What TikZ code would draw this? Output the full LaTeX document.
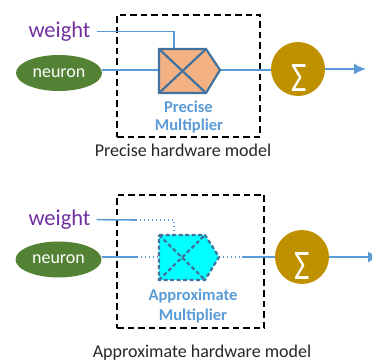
\documentclass[tikz,border=0pt]{standalone}
\usepackage{fontspec}
\setmainfont{Carlito}
\usetikzlibrary{shapes.geometric,arrows.meta,calc}
\definecolor{neurongreen}{HTML}{548235}
\definecolor{sumgold}{HTML}{BF9000}
\definecolor{lineblue}{HTML}{5B9BD5}
\definecolor{mulborder}{HTML}{41719C}
\definecolor{mulorange}{HTML}{F4B183}
\definecolor{mulcyan}{HTML}{00FFFF}
\definecolor{wpurple}{HTML}{7030A0}
\begin{document}
\begin{tikzpicture}[x=1pt,y=-1pt,
  wire/.style={draw=lineblue,line width=1.6pt},
  dotwire/.style={draw=lineblue,line width=1.6pt,dash pattern=on 1.4pt off 2.6pt},
  hwbox/.style={draw=black,line width=1.8pt,dash pattern=on 6.5pt off 4pt,inner sep=0pt},
  neuronst/.style={ellipse,fill=neurongreen,minimum width=86pt,minimum height=36pt,inner sep=0pt,text=white,font=\fontsize{18}{18}\selectfont},
  sumst/.style={circle,fill=sumgold,minimum size=54pt,inner sep=0pt},
  sigmast/.style={text=white,inner sep=0pt,font=\fontsize{42}{42}\selectfont,xscale=0.8},
  weightst/.style={anchor=base,text=wpurple,inner sep=0pt,font=\fontsize{22.5}{22.5}\selectfont},
  mlabel/.style={anchor=base,text=lineblue,inner sep=0pt,font=\fontsize{16.5}{16.5}\selectfont\bfseries},
  caption/.style={anchor=base,text=black!85,inner sep=0pt,font=\fontsize{18}{18}\selectfont},
  precmul/.style={fill=mulorange,draw=mulborder,line width=2.2pt,line join=miter},
  precx/.style={draw=mulborder,line width=2.2pt},
  apxmul/.style={fill=mulcyan,draw=mulborder,line width=2.2pt,dash pattern=on 4pt off 2.5pt},
  apxx/.style={draw=mulborder,line width=2.2pt,dash pattern=on 4pt off 2.5pt},
  arr/.style={wire,-{Latex[length=12pt,width=11pt]}}
]
\clip (0,0) rectangle (372,363);

% ---------- Precise model ----------
\node[hwbox,minimum width=143pt,minimum height=122pt] (b1) at (188.5,76) {};
\node[weightst] (w1) at (59.5,37.5) {weight};
\node[neuronst] (n1) at (59,73) {neuron};
\node[sumst] (s1) at (298,69) {};
\node[sigmast] (g1) at (299,78) {Σ};
\coordinate (m1tl) at (159,49);
\coordinate (m1tr) at (206,49);
\coordinate (m1p) at (220,70);
\coordinate (m1br) at (206,93);
\coordinate (m1bl) at (159,93);
\coordinate (m1l) at (159,70);
\coordinate (m1t) at (174,49);
\coordinate (e1) at (366,69);
\draw[wire] ([xshift=6pt]w1.east) -| (m1t);
\draw[wire] (n1.east |- m1l) -- (m1l);
\draw[wire] (m1p) -- (s1.west |- m1p);
\draw[arr] (s1.east) -- (e1);
\draw[precmul] (m1tl) -- (m1tr) -- (m1p) -- (m1br) -- (m1bl) -- cycle;
\draw[precx] (m1tl) -- (m1br) (m1bl) -- (m1tr);
\node[mlabel] (l1a) at (188.5,112.3) {Precise};
\node[mlabel] (l1b) at (189,131) {Multiplier};
\node[caption] (c1) at (183,156.7) {Precise hardware model};

% ---------- Approximate model ----------
\node[hwbox,minimum width=147pt,minimum height=133pt] (b2) at (190.5,261.5) {};
\node[weightst] (w2) at (59.5,225.5) {weight};
\node[neuronst] (n2) at (58.5,259.5) {neuron};
\node[sumst] (s2) at (302,257) {};
\node[sigmast] (g2) at (302.5,266) {Σ};
\coordinate (m2tl) at (159,235);
\coordinate (m2tr) at (205,235);
\coordinate (m2p) at (219,257);
\coordinate (m2br) at (205,280);
\coordinate (m2bl) at (159,280);
\coordinate (m2l) at (159,257);
\coordinate (m2t) at (174,235);
\coordinate (wa) at (136,220);
\coordinate (wb) at (174,220);
\coordinate (na) at (137,257);
\coordinate (pa) at (242,257);
\coordinate (e2) at (380,257);
\draw[wire] ([xshift=6pt]w2.east) -- (wa);
\draw[dotwire] (wa) -- (wb) -- (m2t);
\draw[wire] (n2.east |- m2l) -- (na);
\draw[dotwire] (na) -- (m2l);
\draw[dotwire] (m2p) -- (pa);
\draw[wire] (pa) -- (s2.west);
\draw[arr] (s2.east) -- (e2);
\draw[apxmul] (m2tl) -- (m2tr) -- (m2p) -- (m2br) -- (m2bl) -- cycle;
\draw[apxx] (m2tl) -- (m2br) (m2bl) -- (m2tr);
\node[mlabel] (l2a) at (193,300.7) {Approximate};
\node[mlabel] (l2b) at (193,320) {Multiplier};
\node[caption] (c2) at (202,357.7) {Approximate hardware model};
\end{tikzpicture}
\end{document}
